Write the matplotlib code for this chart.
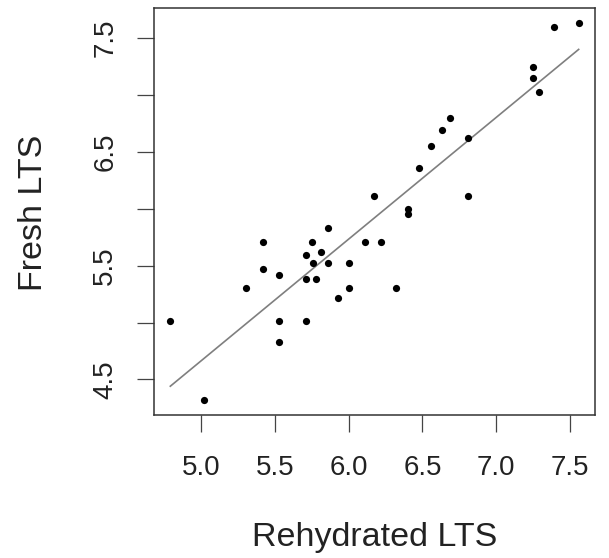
import numpy as np
import matplotlib
matplotlib.use("Agg")
import matplotlib.pyplot as plt

plt.rcParams["font.family"] = ["Liberation Sans", "DejaVu Sans"]

# rehydrated vs fresh LTS measurements
rehydrated = [4.79, 5.02, 5.30, 5.42, 5.42, 5.53, 5.53, 5.53, 5.71, 5.71,
              5.71, 5.75, 5.76, 5.78, 5.81, 5.86, 5.86, 5.93, 6.00, 6.00,
              6.11, 6.22, 6.32, 6.40, 6.40, 6.17, 6.48, 6.56, 6.63, 6.69,
              6.81, 6.81, 7.25, 7.25, 7.29, 7.39, 7.56]
fresh = [5.01, 4.32, 5.30, 5.71, 5.47, 5.42, 5.01, 4.83, 5.01, 5.59,
         5.38, 5.71, 5.52, 5.38, 5.62, 5.83, 5.52, 5.22, 5.52, 5.30,
         5.71, 5.71, 5.30, 6.00, 5.95, 6.11, 6.36, 6.55, 6.69, 6.80,
         6.62, 6.11, 7.25, 7.15, 7.03, 7.60, 7.63]

x_ticks = [5.0, 5.5, 6.0, 6.5, 7.0, 7.5]
y_ticks = [4.5, 5.0, 5.5, 6.0, 6.5, 7.0, 7.5]
y_tick_labels = ["4.5", "", "5.5", "", "6.5", "", "7.5"]

x = np.array(rehydrated)
y = np.array(fresh)

fig = plt.figure(figsize=(6.09, 5.58), dpi=100)
ax = fig.add_axes([154 / 609, 1 - 415 / 558, 441 / 609, (415 - 8.3) / 558])

ax.scatter(x, y, s=27, color="black", zorder=3, linewidths=0)

# least squares fit over the observed range
slope, intercept = np.polyfit(x, y, 1)
xs = np.array([x.min(), x.max()])
ax.plot(xs, intercept + slope * xs, color="#7f7f7f", lw=1.2, zorder=2)

ax.margins(x=0.04, y=0.04)

ax.set_xticks(x_ticks)
ax.set_xticklabels([f"{t:.1f}" for t in x_ticks])
ax.set_yticks(y_ticks)
ax.set_yticklabels(y_tick_labels, rotation=90, va="center")

ax.tick_params(axis="both", length=12.2, width=0.9, color="#444444",
               labelsize=20, labelcolor="#222222")
ax.tick_params(axis="x", pad=16.5)
ax.tick_params(axis="y", pad=13.5)

for s in ax.spines.values():
    s.set_color("#333333")
    s.set_linewidth(1.1)

fig.text(375 / 609, 1 - 546 / 558, "Rehydrated LTS", ha="center",
         va="baseline", fontsize=24.5, color="#222222")
fig.text(42 / 609, 1 - 213 / 558, "Fresh LTS", rotation=90,
         rotation_mode="anchor", ha="center", va="baseline", fontsize=24.5,
         color="#222222")

fig.savefig("out.png", dpi=100)
